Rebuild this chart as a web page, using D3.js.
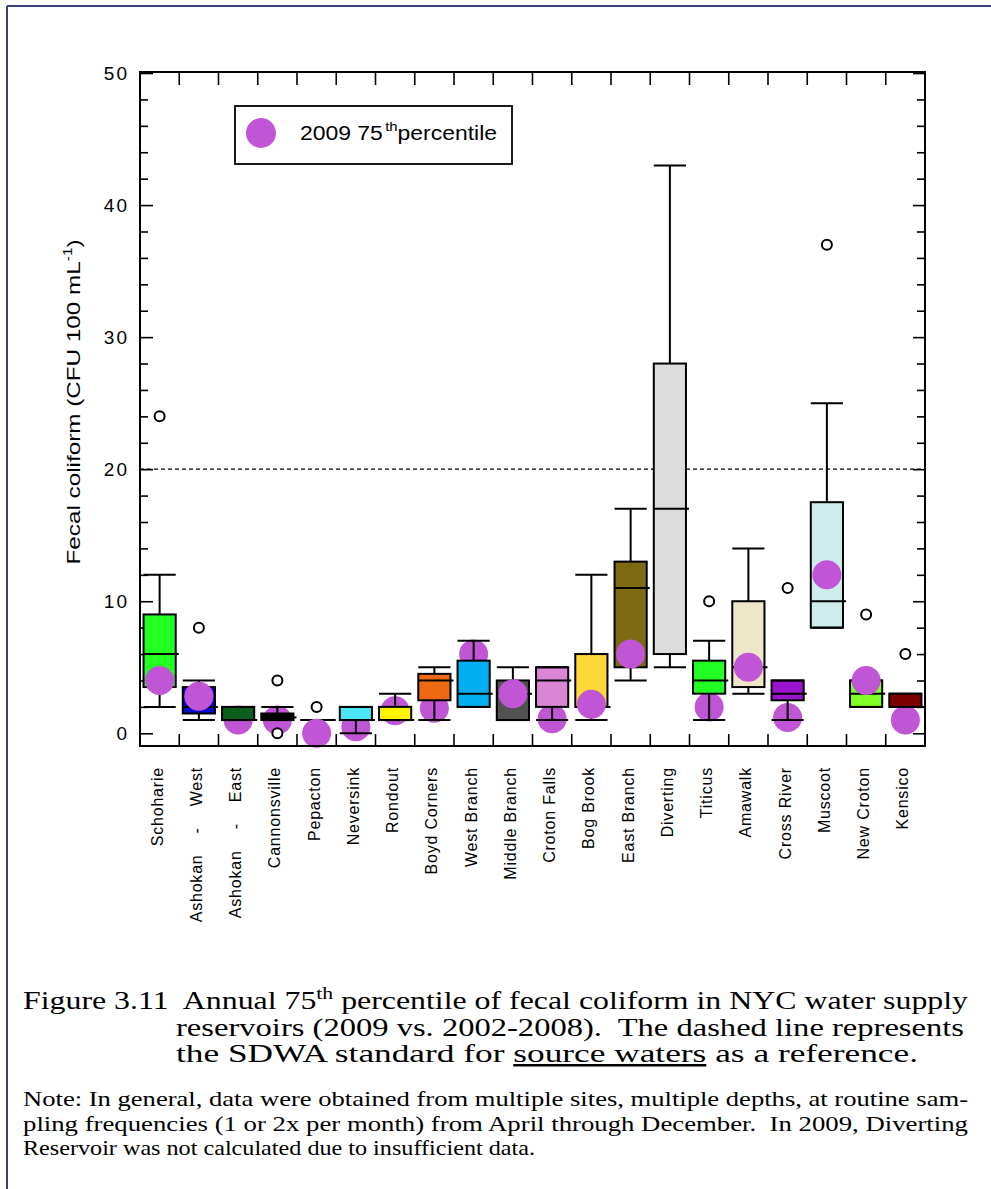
<!DOCTYPE html>
<html>
<head>
<meta charset="utf-8">
<script src="https://cdn.jsdelivr.net/npm/d3@7"></script>
<style>
  body { margin: 0; background: #fff; }
  svg { display: block; }
  text { white-space: pre; }
</style>
</head>
<body>
<div id="chart"></div>
<script>
// Reservoirs, left to right
const reservoirs = ["Schoharie", "Ashokan - West", "Ashokan - East", "Cannonsville", "Pepacton",
    "Neversink", "Rondout", "Boyd Corners", "West Branch", "Middle Branch", "Croton Falls",
    "Bog Brook", "East Branch", "Diverting", "Titicus", "Amawalk", "Cross River", "Muscoot",
    "New Croton", "Kensico"];

// 2002-2008 box plot statistics (CFU 100 mL-1)
const whiskerLow  = [2, 1, 1, 1, 1, 0, 1, 1, 2, 1, 1, 1, 4, 5, 1, 3, 1, 8, 2, 2];
const q1          = [3.5, 1.5, 1, 1, 1, 1, 1, 2.5, 2, 1, 2, 2, 5, 6, 3, 3.5, 2.5, 8, 2, 2];
const median      = [6, 2, 1, 1.2, 1, 1, 1, 4, 3, 3, 4, 2, 11, 17, 4, 5, 3, 10, 3, 2];
const q3          = [9, 3.5, 2, 1.5, 1, 2, 2, 4.5, 5.5, 4, 5, 6, 13, 28, 5.5, 10, 4, 17.5, 4, 3];
const whiskerHigh = [12, 4, 2, 2, 1, 2, 3, 5, 7, 5, 5, 12, 17, 43, 7, 14, 4, 25, 4, 3];
const outliers    = [[24], [8], [], [4, 0], [2], [], [], [], [], [], [], [], [], [], [10], [], [11], [37], [9], [6]];

// 2009 annual 75th percentile (Diverting not calculated)
const p75_2009 = [4, 2.8, 1, 1, 0, 0.5, 1.7, 1.9, 6, 3, 1.1, 2.2, 6, null, 2, 5, 1.2, 12, 4, 1];

const yTicks = [0, 10, 20, 30, 40, 50];
const sdwaStandard = 20;

// Box fill colours
const boxColors = ["#22ff22", "#0a0acc", "#0b5e1c", "#000000", "#ffffff", "#4de6f7", "#fff500",
    "#ee6a12", "#00aeef", "#525252", "#da85d6", "#fdd83a", "#7f6a14", "#dcdcdc", "#22ff22",
    "#eee6c8", "#9a14d0", "#cdeceb", "#7fff22", "#800000"];
// Reservoirs whose 2009 marker sits behind the box
const dotBehind = ["Ashokan - East", "Cannonsville", "Neversink", "Rondout", "Boyd Corners",
    "West Branch", "Croton Falls", "Titicus", "Cross River", "Kensico"];

const dotColor = "#c055d6";

const W = 991, H = 1189;
const plot = { left: 140, right: 925, top: 72, bottom: 746 };
const sans = "'Liberation Sans', Arial, sans-serif";
const serif = "'Liberation Serif', 'Times New Roman', serif";

const svg = d3.select("#chart")
    .append("svg")
    .attr("width", W)
    .attr("height", H);

// Page frame (top and left edges)
svg.append("line").attr("x1", 7).attr("x2", W).attr("y1", 6).attr("y2", 6)
    .attr("stroke", "#3b3f7a").attr("stroke-width", 2);
svg.append("line").attr("x1", 7).attr("x2", 7).attr("y1", 6).attr("y2", H)
    .attr("stroke", "#3b3f7a").attr("stroke-width", 2);

// Scales
let x = d3.scaleBand()
    .domain(reservoirs)
    .range([plot.left, plot.right])
    .padding(0);

let y = d3.scaleLinear()
    .domain([-1, 50.1])
    .range([746.5, 71.7]);

const boxW = x.bandwidth() * 0.82;

// Dashed reference line (SDWA standard)
svg.append("line")
    .attr("x1", plot.left).attr("x2", plot.right)
    .attr("y1", y(sdwaStandard)).attr("y2", y(sdwaStandard))
    .attr("stroke", "#000")
    .attr("stroke-width", 1.3)
    .attr("stroke-dasharray", "4,3");

// Y axis, left and right (ticks point inward)
let minorTicks = d3.range(0, 51, 2).filter(v => v % 10 !== 0);

let yLeft = svg.append("g")
    .attr("transform", `translate(${plot.left},0)`)
    .call(d3.axisRight(y).tickValues(yTicks).tickSize(13).tickFormat(""));
yLeft.append("g")
    .call(d3.axisRight(y).tickValues(minorTicks).tickSize(8).tickFormat(""));
yLeft.selectAll(".domain").remove();

let yRight = svg.append("g")
    .attr("transform", `translate(${plot.right},0)`)
    .call(d3.axisLeft(y).tickValues(yTicks).tickSize(12).tickFormat(""));
yRight.append("g")
    .call(d3.axisLeft(y).tickValues(minorTicks).tickSize(8).tickFormat(""));
yRight.selectAll(".domain").remove();

svg.selectAll(".tick line").attr("stroke", "#000").attr("stroke-width", 1.6);

// Y tick labels
svg.append("g")
    .selectAll("text")
    .data(yTicks)
    .enter().append("text")
    .attr("x", 129)
    .attr("y", d => y(d) + 7)
    .attr("text-anchor", "end")
    .style("font", `19px ${sans}`)
    .style("letter-spacing", "2px")
    .text(d => d);

// X ticks at category boundaries, top and bottom
let bounds = reservoirs.slice(1).map(r => x(r));
svg.append("g")
    .selectAll("line")
    .data(bounds)
    .enter().append("line")
    .attr("x1", d => d).attr("x2", d => d)
    .attr("y1", plot.top).attr("y2", plot.top + 13)
    .attr("stroke", "#000").attr("stroke-width", 1.6);
svg.append("g")
    .selectAll("line")
    .data(bounds)
    .enter().append("line")
    .attr("x1", d => d).attr("x2", d => d)
    .attr("y1", plot.bottom).attr("y2", plot.bottom - 12)
    .attr("stroke", "#000").attr("stroke-width", 1.6);

// Category labels, rotated (wide gaps round the hyphen as in the source)
svg.append("g")
    .selectAll("text")
    .data(reservoirs)
    .enter().append("text")
    .attr("transform", d => `translate(${x(d) + x.bandwidth() / 2 + 3},767) rotate(-90)`)
    .attr("text-anchor", "end")
    .style("font", `16px ${sans}`)
    .style("letter-spacing", "0.8px")
    .text(d => d.replace(" - ", "    -    "));

// Boxes and 2009 markers
reservoirs.forEach((r, i) => {
    let cx = x(r) + x.bandwidth() / 2;
    let g = svg.append("g");

    const drawDot = () => {
        if (p75_2009[i] === null) return;
        g.append("circle")
            .attr("cx", cx)
            .attr("cy", y(p75_2009[i]))
            .attr("r", 14.5)
            .attr("fill", dotColor);
    };

    const drawBox = () => {
        let x0 = cx - boxW / 2, x1 = cx + boxW / 2;
        // whisker stems
        g.append("line")
            .attr("x1", cx).attr("x2", cx)
            .attr("y1", y(q3[i])).attr("y2", y(whiskerHigh[i]))
            .attr("stroke", "#000").attr("stroke-width", 2);
        g.append("line")
            .attr("x1", cx).attr("x2", cx)
            .attr("y1", y(q1[i])).attr("y2", y(whiskerLow[i]))
            .attr("stroke", "#000").attr("stroke-width", 2);
        // box
        g.append("rect")
            .attr("x", x0)
            .attr("y", y(q3[i]))
            .attr("width", boxW)
            .attr("height", y(q1[i]) - y(q3[i]))
            .attr("fill", boxColors[i])
            .attr("stroke", "#000")
            .attr("stroke-width", 2);
        // caps and median
        [whiskerHigh[i], whiskerLow[i]].forEach(v => {
            g.append("line")
                .attr("x1", x0).attr("x2", x1)
                .attr("y1", y(v)).attr("y2", y(v))
                .attr("stroke", "#000").attr("stroke-width", 2);
        });
        g.append("line")
            .attr("x1", x0).attr("x2", x1 + 3)
            .attr("y1", y(median[i])).attr("y2", y(median[i]))
            .attr("stroke", "#000").attr("stroke-width", 2);
    };

    if (dotBehind.includes(r)) {
        drawDot();
        drawBox();
    } else {
        drawBox();
        drawDot();
    }

    // outliers
    g.selectAll(".outlier")
        .data(outliers[i])
        .enter().append("circle")
        .attr("class", "outlier")
        .attr("cx", cx)
        .attr("cy", d => y(d))
        .attr("r", 5)
        .attr("fill", "#fff")
        .attr("stroke", "#000")
        .attr("stroke-width", 2);
});

// Plot frame
svg.append("rect")
    .attr("x", plot.left)
    .attr("y", plot.top)
    .attr("width", plot.right - plot.left)
    .attr("height", plot.bottom - plot.top)
    .attr("fill", "none")
    .attr("stroke", "#000")
    .attr("stroke-width", 2);

// Y axis title
let yTitle = svg.append("text")
    .attr("transform", "translate(80,402) rotate(-90)")
    .attr("text-anchor", "middle")
    .attr("textLength", 325)
    .attr("lengthAdjust", "spacingAndGlyphs")
    .style("font", `19px ${sans}`);
yTitle.append("tspan").text("Fecal coliform (CFU 100 mL");
yTitle.append("tspan").attr("dy", -8).style("font-size", "12px").text("-1");
yTitle.append("tspan").attr("dy", 8).text(")");

// Legend
svg.append("rect")
    .attr("x", 235).attr("y", 106)
    .attr("width", 277).attr("height", 58)
    .attr("fill", "#fff")
    .attr("stroke", "#000")
    .attr("stroke-width", 1.8);
svg.append("circle")
    .attr("cx", 261).attr("cy", 133).attr("r", 15)
    .attr("fill", dotColor);
let legText = svg.append("text")
    .attr("x", 300).attr("y", 140)
    .attr("textLength", 197)
    .attr("lengthAdjust", "spacingAndGlyphs")
    .style("font", `20px ${sans}`);
legText.append("tspan").text("2009 75");
legText.append("tspan").attr("dy", -9).attr("dx", 2).style("font-size", "13px").text("th");
legText.append("tspan").attr("dy", 9).text("percentile");

// Caption
let cap1 = svg.append("text")
    .attr("x", 23).attr("y", 1009)
    .attr("textLength", 945)
    .attr("lengthAdjust", "spacingAndGlyphs")
    .style("font", `25px ${serif}`);
cap1.append("tspan").text("Figure 3.11  Annual 75");
cap1.append("tspan").attr("dy", -10).style("font-size", "17px").text("th");
cap1.append("tspan").attr("dy", 10).text(" percentile of fecal coliform in NYC water supply");

svg.append("text")
    .attr("x", 176).attr("y", 1036)
    .attr("textLength", 788)
    .attr("lengthAdjust", "spacingAndGlyphs")
    .style("font", `25px ${serif}`)
    .text("reservoirs (2009 vs. 2002-2008).  The dashed line represents");

let cap3 = svg.append("text")
    .attr("x", 176).attr("y", 1062)
    .attr("textLength", 742)
    .attr("lengthAdjust", "spacingAndGlyphs")
    .style("font", `25px ${serif}`);
cap3.append("tspan").text("the SDWA standard for ");
cap3.append("tspan").style("text-decoration", "underline").text("source waters");
cap3.append("tspan").text(" as a reference.");

// Note
const noteLines = [
    "Note: In general, data were obtained from multiple sites, multiple depths, at routine sam-",
    "pling frequencies (1 or 2x per month) from April through December.  In 2009, Diverting",
    "Reservoir was not calculated due to insufficient data."
];
const noteWidths = [945, 945, 512];
svg.append("g")
    .selectAll("text")
    .data(noteLines)
    .enter().append("text")
    .attr("x", 23)
    .attr("y", (d, i) => 1106 + i * 24.5)
    .attr("textLength", (d, i) => noteWidths[i])
    .attr("lengthAdjust", "spacingAndGlyphs")
    .style("font", `21px ${serif}`)
    .text(d => d);
</script>
</body>
</html>
